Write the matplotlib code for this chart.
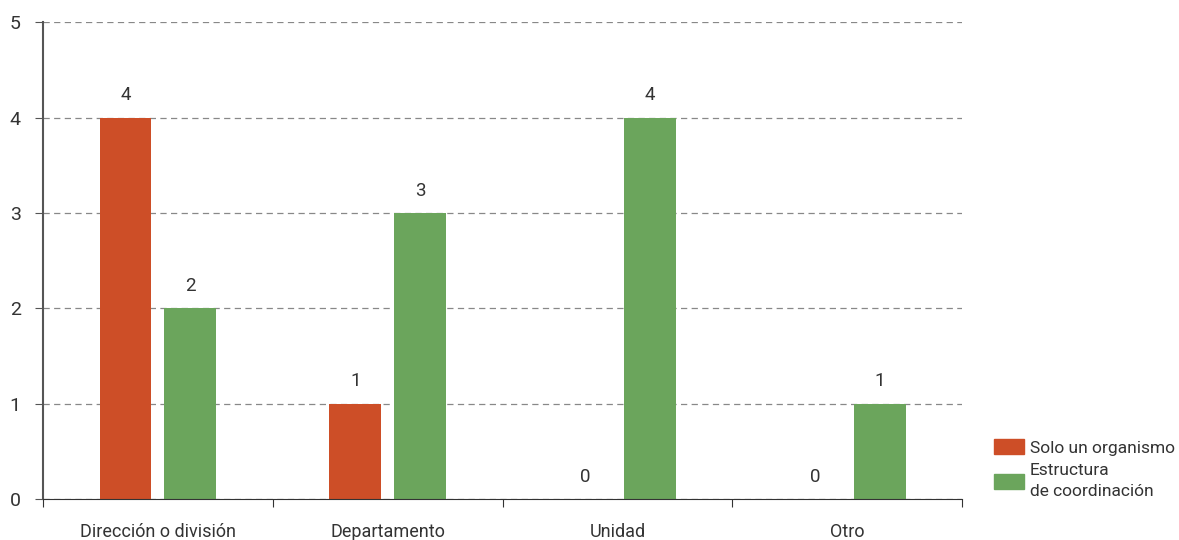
import numpy as np
import matplotlib.pyplot as plt
from matplotlib.patches import Patch

plt.rcParams['font.family'] = ['Roboto', 'DejaVu Sans']

categorias = ["Dirección o división", "Departamento", "Unidad", "Otro"]
solo_organismo = [4, 1, 0, 0]
estructura = [2, 3, 4, 1]
series_nombres = ["Solo un organismo", "Estructura\nde coordinación"]
rojo = "#CD4E27"
verde = "#6BA55C"

fig = plt.figure(figsize=(11.79, 5.40), dpi=100)
ax = fig.add_axes([0.0365, 0.076, 0.7795, 0.883])

x = np.arange(len(categorias))
w = 0.226
off = 0.141
b1 = ax.bar(x - off, solo_organismo, w, color=rojo)
b2 = ax.bar(x + off, estructura, w, color=verde)

for bars, vals in ((b1, solo_organismo), (b2, estructura)):
    for b, v in zip(bars, vals):
        ax.text(b.get_x() + b.get_width() / 2, v + 0.14, str(v),
                ha="center", va="bottom", fontsize=13.5, color="#333333")

ax.set_xlim(-0.5, len(categorias) - 0.5)
ax.set_ylim(0, 5)
ax.set_yticks(range(6))
ax.yaxis.grid(True, linestyle=(0, (5, 3.5)), color="#888888", linewidth=0.9)
ax.set_axisbelow(True)

ax.set_xticks(np.arange(len(categorias) + 1) - 0.5)
ax.set_xticklabels([])
ax.set_xticks(x, minor=True)
ax.set_xticklabels(categorias, minor=True, fontsize=13, color="#333333")
ax.tick_params(axis="x", which="minor", length=0, pad=17)
ax.tick_params(axis="x", which="major", length=6, color="#333333", direction="out")
ax.tick_params(axis="y", length=6, color="#555555", labelsize=14, labelcolor="#333333", pad=10)

for s in ("top", "right"):
    ax.spines[s].set_visible(False)
ax.spines["left"].set_color("#555555")
ax.spines["left"].set_linewidth(1.5)
ax.spines["bottom"].set_color("#333333")

handles = [Patch(color=rojo), Patch(color=verde)]
leg = fig.legend(handles, series_nombres, loc="upper left", bbox_to_anchor=(0.842, 0.19),
                 frameon=False, fontsize=12.5, handlelength=1.7, handleheight=0.95,
                 handletextpad=0.35, labelspacing=0.45, labelcolor="#333333",
                 borderpad=0.1, borderaxespad=0)
for t in leg.get_texts():
    t.set_linespacing(1.45)

fig.savefig("out.png", dpi=100)
